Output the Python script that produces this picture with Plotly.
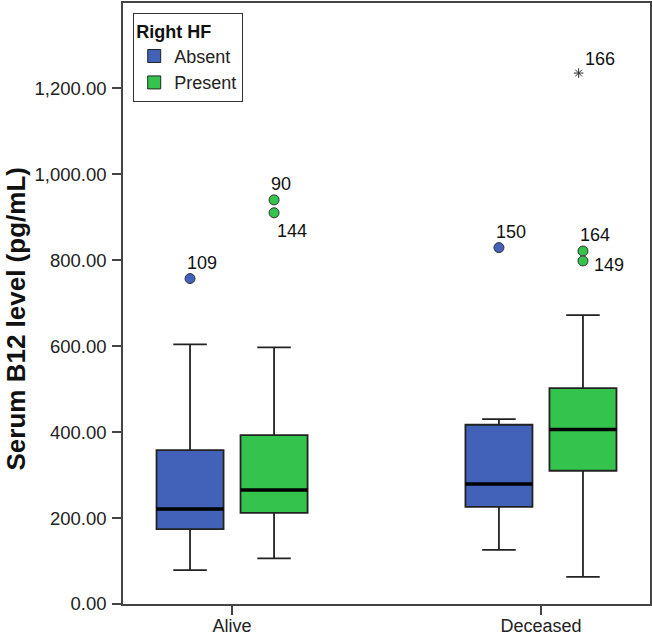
import plotly.graph_objects as go

# ---- data ----
categories = ["Alive", "Deceased"]
groups = ["Absent", "Present"]

# box statistics per group, one value per category
absent_q1 = [174, 226]
absent_median = [221, 279]
absent_q3 = [358, 417]
absent_lower = [79, 126]
absent_upper = [604, 430]

present_q1 = [212, 310]
present_median = [265, 406]
present_q3 = [393, 502]
present_lower = [106, 63]
present_upper = [597, 672]

# outliers: (category index, value, case label)
absent_out_cat = [0, 1]
absent_out_val = [757, 829]
absent_out_lab = ["109", "150"]

present_out_cat = [0, 0, 1, 1]
present_out_val = [940, 910, 821, 798]
present_out_lab = ["90", "144", "164", "149"]

extreme_cat = [1]
extreme_val = [1235]
extreme_lab = ["166"]

yticks = [0, 200, 400, 600, 800, 1000, 1200]

# ---- styling ----
BLUE = "#4261B8"
GREEN = "#34C44E"
EDGE = "#222222"
FONT = "Liberation Sans, Arial, sans-serif"
OFFSET = 0.136
BOXW = 0.217

fig = go.Figure()

def add_group(name, color, off, q1, med, q3, lo, hi):
    xs = [i + off for i in range(len(categories))]
    fig.add_trace(go.Box(
        x=xs, q1=q1, median=med, q3=q3, lowerfence=lo, upperfence=hi,
        width=BOXW, whiskerwidth=0.5, boxpoints=False,
        fillcolor=color, line=dict(color=EDGE, width=1.8),
        showlegend=False, hoverinfo="skip"))
    mx, my = [], []
    for x, m in zip(xs, med):
        mx += [x - BOXW / 2, x + BOXW / 2, None]
        my += [m, m, None]
    fig.add_trace(go.Scatter(x=mx, y=my, mode="lines",
                             line=dict(color="black", width=3.5),
                             showlegend=False, hoverinfo="skip"))

add_group("Absent", BLUE, -OFFSET, absent_q1, absent_median, absent_q3, absent_lower, absent_upper)
add_group("Present", GREEN, OFFSET, present_q1, present_median, present_q3, present_lower, present_upper)

# outliers
fig.add_trace(go.Scatter(x=[c - OFFSET for c in absent_out_cat], y=absent_out_val, mode="markers",
                         marker=dict(color=BLUE, size=10, line=dict(color="#333", width=1)),
                         showlegend=False, hoverinfo="skip"))
fig.add_trace(go.Scatter(x=[c + OFFSET for c in present_out_cat], y=present_out_val, mode="markers",
                         marker=dict(color=GREEN, size=10, line=dict(color="#333", width=1)),
                         showlegend=False, hoverinfo="skip"))
fig.add_trace(go.Scatter(x=[c + OFFSET - 0.014 for c in extreme_cat], y=extreme_val, mode="markers",
                         marker=dict(symbol="asterisk-open", size=8, color="#333",
                                     line=dict(color="#333", width=1)),
                         showlegend=False, hoverinfo="skip"))

# legend entries
fig.add_trace(go.Scatter(x=[None], y=[None], mode="markers", name="Absent",
                         marker=dict(symbol="square", color=BLUE, size=13, line=dict(color="#222", width=1))))
fig.add_trace(go.Scatter(x=[None], y=[None], mode="markers", name="Present",
                         marker=dict(symbol="square", color=GREEN, size=13, line=dict(color="#222", width=1))))

# outlier labels (placement: above / below / right)
def label(x, y, text, place):
    if place == "above":
        fig.add_annotation(x=x, y=y, text=text, showarrow=False, xanchor="left", yanchor="bottom",
                           xshift=-5, yshift=4, font=dict(size=18, color="#111", family=FONT))
    elif place == "below":
        fig.add_annotation(x=x, y=y, text=text, showarrow=False, xanchor="left", yanchor="top",
                           xshift=1, yshift=-6, font=dict(size=18, color="#111", family=FONT))
    else:
        fig.add_annotation(x=x, y=y, text=text, showarrow=False, xanchor="left", yanchor="middle",
                           xshift=9, yshift=-4, font=dict(size=18, color="#111", family=FONT))

absent_place = ["above", "above"]
present_place = ["above", "below", "above", "right"]
for c, v, t, p in zip(absent_out_cat, absent_out_val, absent_out_lab, absent_place):
    label(c - OFFSET, v, t, p)
for c, v, t, p in zip(present_out_cat, present_out_val, present_out_lab, present_place):
    label(c + OFFSET, v, t, p)
for c, v, t in zip(extreme_cat, extreme_val, extreme_lab):
    fig.add_annotation(x=c + OFFSET, y=v, text=t, showarrow=False, xanchor="left", yanchor="bottom",
                       xshift=0, yshift=2, font=dict(size=18, color="#111", family=FONT))

# y-axis title
fig.add_annotation(xref="paper", yref="paper", x=(15.5 - 123) / 527, y=(604 - 319) / 601,
                   text="<b>Serum B12 level (pg/mL)</b>", textangle=-90, showarrow=False,
                   xanchor="center", yanchor="middle", font=dict(size=26, color="#111", family=FONT))

fig.update_layout(
    width=652, height=636,
    margin=dict(l=123, r=2, t=3, b=32, autoexpand=False),
    paper_bgcolor="white", plot_bgcolor="white",
    font=dict(family=FONT, size=18, color="#222"),
    legend=dict(title=dict(text="<b>Right HF</b>", font=dict(size=18, color="#111")),
                x=0.019, y=0.983, xanchor="left", yanchor="top",
                bordercolor="#333", borderwidth=1.2, bgcolor="white",
                font=dict(size=18, color="#222"), tracegroupgap=0, itemwidth=30),
)
fig.update_xaxes(range=[-0.353, 1.353], tickvals=[0, 1], ticktext=categories,
                 showgrid=False, zeroline=False, showline=True, linecolor="#444", linewidth=1.5,
                 mirror=True, ticks="outside", ticklen=9, tickcolor="#444", tickwidth=1.5,
                 automargin=False, ticklabelstandoff=-4,
                 tickfont=dict(size=18, color="#222"))
fig.update_yaxes(range=[0, 1398], tickvals=yticks, tickformat=",.2f",
                 showgrid=False, zeroline=False, showline=True, linecolor="#444", linewidth=1.5,
                 mirror=True, ticks="outside", ticklen=9, tickcolor="#444", tickwidth=1.5,
                 automargin=False, ticklabelstandoff=2,
                 tickfont=dict(size=18.5, color="#222"))

fig.write_html("out.html", config={"displayModeBar": False},
               post_script="document.body.style.margin='0';document.body.style.overflow='hidden';")
